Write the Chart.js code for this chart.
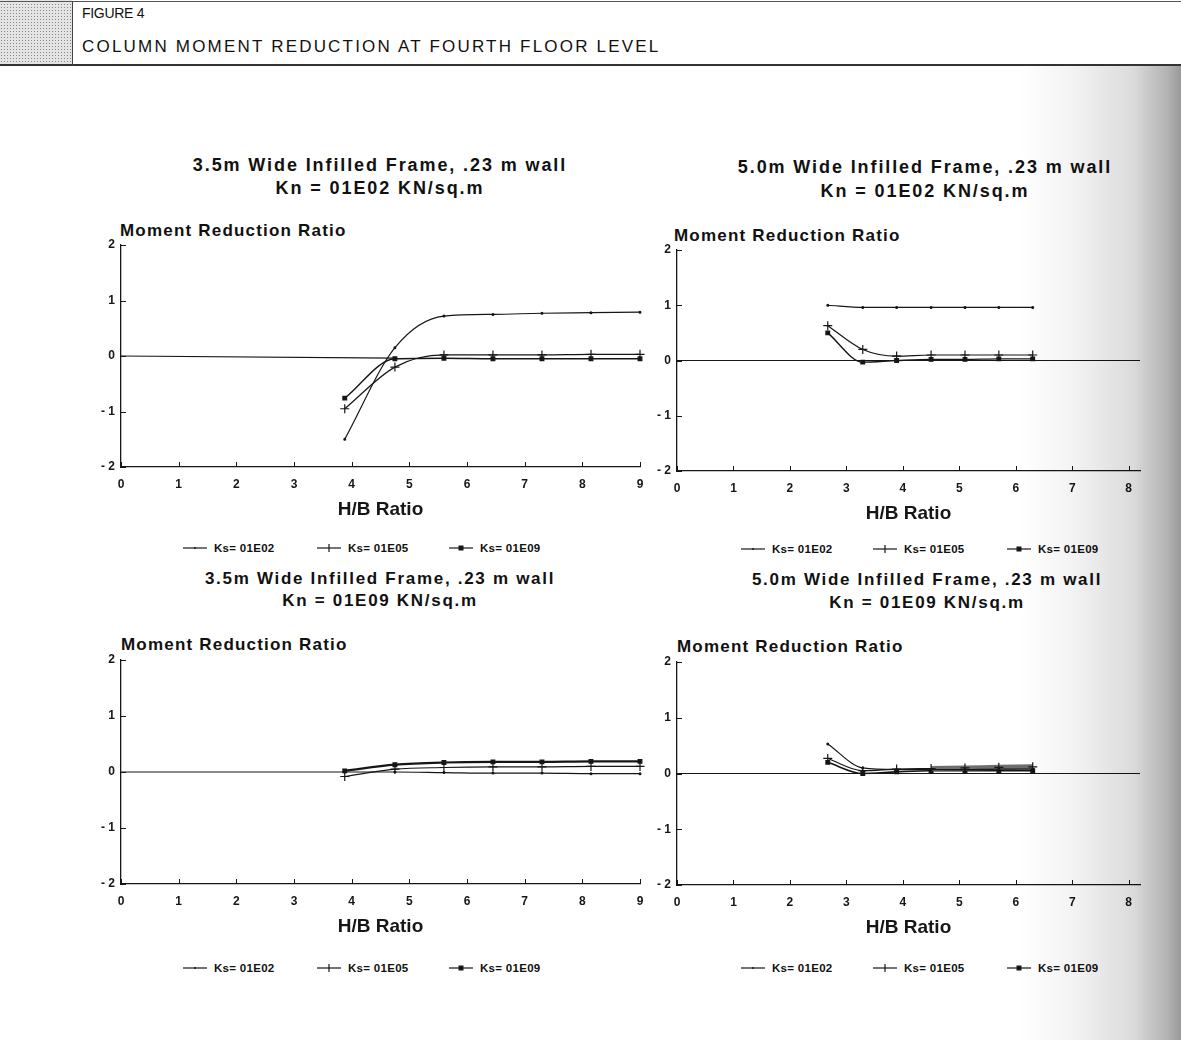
<!DOCTYPE html>
<html><head><meta charset="utf-8">
<script src="https://cdn.jsdelivr.net/npm/chart.js@4"></script>
<style>
html,body{margin:0;padding:0;background:#fff}
body{width:1181px;height:1040px;overflow:hidden;position:relative;font-family:"Liberation Sans",Arial,sans-serif;color:#111}
.abs{position:absolute}
.ptitle{position:absolute;text-align:center;font-weight:bold;white-space:nowrap}
.ytitle{position:absolute;font-weight:bold;font-size:17px;line-height:18px;white-space:nowrap;letter-spacing:1.2px}
.leg{position:absolute;height:14px;font-weight:bold;font-size:11.5px;line-height:14px;white-space:nowrap;letter-spacing:0.3px}
.leg svg{position:absolute;top:0}
.leg span{position:absolute;top:0}
canvas{position:absolute}
</style></head><body>
<div class="abs" style="left:0;top:0;width:72px;height:64px;background-color:#e4e4e4;background-image:radial-gradient(#888 0.7px,transparent 0.9px);background-size:3px 3px"></div>
<div class="abs" style="left:0;top:1px;width:1181px;height:1px;background:#555"></div>
<div class="abs" style="left:0;top:64px;width:1181px;height:2px;background:#333"></div>
<div class="abs" style="left:72px;top:1px;width:1px;height:64px;background:#444"></div>
<div class="abs" style="left:82px;top:5px;font-size:14px;line-height:16px;letter-spacing:-0.3px">FIGURE 4</div>
<div class="abs" style="left:82px;top:38px;font-size:17px;line-height:18px;letter-spacing:2.2px">COLUMN MOMENT REDUCTION AT FOURTH FLOOR LEVEL</div>

<div class="ptitle" style="left:130px;top:154px;width:500px;font-size:18px;line-height:23px;letter-spacing:1.9px">3.5m Wide Infilled Frame, .23 m wall<br>Kn = 01E02 KN/sq.m</div>
<div class="ptitle" style="left:675px;top:155px;width:500px;font-size:18px;line-height:24px;letter-spacing:1.9px">5.0m Wide Infilled Frame, .23 m wall<br>Kn = 01E02 KN/sq.m</div>
<div class="ptitle" style="left:130px;top:568px;width:500px;font-size:17px;line-height:22px;letter-spacing:1.7px">3.5m Wide Infilled Frame, .23 m wall<br>Kn = 01E09 KN/sq.m</div>
<div class="ptitle" style="left:677px;top:568px;width:500px;font-size:17px;line-height:23px;letter-spacing:1.7px">5.0m Wide Infilled Frame, .23 m wall<br>Kn = 01E09 KN/sq.m</div>

<div class="ytitle" style="left:120px;top:222px">Moment Reduction Ratio</div>
<div class="ytitle" style="left:674px;top:227px">Moment Reduction Ratio</div>
<div class="ytitle" style="left:121px;top:636px">Moment Reduction Ratio</div>
<div class="ytitle" style="left:677px;top:638px">Moment Reduction Ratio</div>

<div id="legends"></div>
<div class="abs" style="left:1020px;top:66px;width:161px;height:974px;pointer-events:none;z-index:5;background:linear-gradient(to right,rgba(0,0,0,0) 0%,rgba(0,0,0,0.05) 35%,rgba(0,0,0,0.14) 70%,rgba(0,0,0,0.3) 92%,rgba(0,0,0,0.4) 100%)"></div>

<script>
// ---------- data ----------
const xTicks35 = [0, 1, 2, 3, 4, 5, 6, 7, 8, 9];
const xTicks50 = [0, 1, 2, 3, 4, 5, 6, 7, 8];
const yTicks = [-2, -1, 0, 1, 2];
const seriesNames = ['Ks= 01E02', 'Ks= 01E05', 'Ks= 01E09'];

const hb35 = [3.88, 4.75, 5.6, 6.45, 7.3, 8.15, 9.0];
const hb50 = [2.67, 3.29, 3.89, 4.5, 5.1, 5.7, 6.3];

// 3.5m wide, Kn = 01E02
const a_E02 = [-1.5, 0.15, 0.72, 0.75, 0.77, 0.78, 0.79];
const a_E05 = [-0.95, -0.2, 0.02, 0.02, 0.02, 0.03, 0.03];
const a_E09 = [-0.76, -0.05, -0.04, -0.05, -0.05, -0.05, -0.05];
const a_baseX = [0, 4.75];
const a_baseY = [0, -0.04];

// 5.0m wide, Kn = 01E02
const b_E02 = [1.0, 0.96, 0.96, 0.96, 0.96, 0.96, 0.96];
const b_E05 = [0.63, 0.2, 0.08, 0.1, 0.1, 0.1, 0.1];
const b_E09 = [0.5, -0.03, 0.0, 0.02, 0.02, 0.03, 0.03];
const b_baseX = [0, 8.2];
const b_baseY = [0, 0];

// 3.5m wide, Kn = 01E09
const c_E02 = [0.0, 0.0, -0.01, -0.02, -0.02, -0.03, -0.03];
const c_E05 = [-0.08, 0.05, 0.08, 0.09, 0.09, 0.1, 0.1];
const c_E09 = [0.02, 0.13, 0.17, 0.18, 0.18, 0.19, 0.19];
const c_baseX = [0, 3.88];
const c_baseY = [0, 0];

// 5.0m wide, Kn = 01E09
const d_E02 = [0.53, 0.1, 0.07, 0.07, 0.07, 0.08, 0.08];
const d_E05 = [0.27, 0.05, 0.08, 0.09, 0.1, 0.11, 0.12];
const d_E09 = [0.2, 0.0, 0.03, 0.05, 0.05, 0.05, 0.05];
const d_baseX = [0, 8.2];
const d_baseY = [0, 0];
const d_bandFrom = 4.5;   // Ks=01E05 drawn as a heavy grey band from this H/B on

// ---------- layout ----------
const panels = [
  {L:121, R:640, T:245, B:467, xmax:9,   ticks:xTicks35, xs:hb35, base:[a_baseX,a_baseY], s:[a_E02,a_E05,a_E09], w9:1.4, band:null, leg:{y:541, x:[183,317,449]}},
  {L:677, R:1140, T:250, B:471, xmax:8.2, ticks:xTicks50, xs:hb50, base:[b_baseX,b_baseY], s:[b_E02,b_E05,b_E09], w9:1.4, band:null, leg:{y:542, x:[741,873,1007]}},
  {L:121, R:640, T:660, B:884, xmax:9,   ticks:xTicks35, xs:hb35, base:[c_baseX,c_baseY], s:[c_E02,c_E05,c_E09], w9:2.2, band:null, leg:{y:961, x:[183,317,449]}},
  {L:677, R:1140, T:662, B:885, xmax:8.2, ticks:xTicks50, xs:hb50, base:[d_baseX,d_baseY], s:[d_E02,d_E05,d_E09], w9:1.6, band:d_bandFrom, leg:{y:961, x:[741,873,1007]}}
];

const INK = '#161616';
Chart.defaults.font.family = '"Liberation Sans", Arial, sans-serif';
Chart.defaults.color = INK;

const innerTicks = {
  id: 'innerTicks',
  afterDraw(chart) {
    const {ctx, chartArea, scales} = chart;
    ctx.save();
    ctx.strokeStyle = INK;
    ctx.lineWidth = 1;
    scales.x.ticks.forEach(t => {
      const px = Math.round(scales.x.getPixelForValue(t.value)) + 0.5;
      ctx.beginPath(); ctx.moveTo(px, chartArea.bottom); ctx.lineTo(px, chartArea.bottom - 5); ctx.stroke();
    });
    scales.y.ticks.forEach(t => {
      const py = Math.round(scales.y.getPixelForValue(t.value)) + 0.5;
      ctx.beginPath(); ctx.moveTo(chartArea.left, py); ctx.lineTo(chartArea.left + 5, py); ctx.stroke();
    });
    ctx.restore();
  }
};

const styles = [
  {pointStyle:'circle', pointRadius:0.9, bw:1.2},
  {pointStyle:'cross', pointRadius:4.5, bw:1.2},
  {pointStyle:'rect', pointRadius:2.6, bw:1.4}
];

panels.forEach((p, i) => {
  const padL = 45, padT = 14, padR = 26, xH = 60;
  const cl = p.L - padL, ct = p.T - padT;
  const cw = p.R + padR - cl, ch = p.B + xH - ct;
  const cv = document.createElement('canvas');
  cv.width = cw; cv.height = ch;
  cv.style.left = cl + 'px'; cv.style.top = ct + 'px';
  cv.style.width = cw + 'px'; cv.style.height = ch + 'px';
  document.body.appendChild(cv);

  const datasets = [{
    label: 'zero',
    data: p.base[0].map((x, k) => ({x, y: p.base[1][k]})),
    borderColor: INK, borderWidth: 1.2, pointRadius: 0, tension: 0
  }];
  p.s.forEach((vals, k) => {
    const st = styles[k];
    const ds = {
      label: seriesNames[k],
      data: p.xs.map((x, j) => ({x, y: vals[j]})),
      borderColor: INK, backgroundColor: INK,
      borderWidth: k === 2 ? p.w9 : st.bw,
      pointStyle: st.pointStyle, pointRadius: st.pointRadius,
      pointBorderColor: INK, pointBackgroundColor: INK, pointBorderWidth: 1.2,
      cubicInterpolationMode: 'monotone', clip: 12, fill: false
    };
    if (k === 1 && p.band !== null) {
      const inBand = c => c.p0.parsed.x >= p.band - 1e-6;
      ds.segment = {
        borderColor: c => inBand(c) ? '#6e6e6e' : undefined,
        borderWidth: c => inBand(c) ? 5 : undefined
      };
    }
    datasets.push(ds);
  });

  new Chart(cv, {
    type: 'line',
    data: {datasets},
    plugins: [innerTicks],
    options: {
      responsive: false, animation: false,
      layout: {padding: {left: 0, top: padT, right: padR, bottom: 0}},
      plugins: {legend: {display: false}, tooltip: {enabled: false}},
      scales: {
        x: {
          type: 'linear', min: 0, max: p.xmax,
          afterBuildTicks: s => { s.ticks = p.ticks.map(v => ({value: v})); },
          afterFit: s => { s.height = xH; },
          grid: {display: false, drawTicks: false},
          border: {display: true, color: INK, width: 1.3},
          ticks: {padding: 10, font: {size: 12, weight: 'bold'}, color: INK, maxRotation: 0},
          title: {display: true, text: 'H/B Ratio', font: {size: 19, weight: 'bold'}, color: INK, padding: {top: 0, bottom: 6}}
        },
        y: {
          type: 'linear', min: -2, max: 2,
          afterBuildTicks: s => { s.ticks = yTicks.map(v => ({value: v})); },
          afterFit: s => { s.width = padL; },
          grid: {display: false, drawTicks: false},
          border: {display: true, color: INK, width: 1.3},
          ticks: {padding: 6, font: {size: 12, weight: 'bold'}, color: INK,
                  callback: v => v < 0 ? '- ' + Math.abs(v) : String(v)}
        }
      }
    }
  });

  // legend
  const lg = document.createElement('div');
  lg.className = 'leg';
  lg.style.left = '0px'; lg.style.top = p.leg.y + 'px'; lg.style.width = '1181px';
  seriesNames.forEach((name, k) => {
    const x0 = p.leg.x[k];
    let marker = '';
    if (k === 0) marker = '<circle cx="12" cy="7" r="1" fill="#161616"/>';
    if (k === 1) marker = '<line x1="12" y1="3" x2="12" y2="11" stroke="#161616" stroke-width="1.2"/>';
    if (k === 2) marker = '<rect x="9.5" y="4.5" width="5" height="5" fill="#161616"/>';
    lg.insertAdjacentHTML('beforeend',
      `<svg style="left:${x0}px" width="24" height="14"><line x1="0" y1="7" x2="24" y2="7" stroke="#161616" stroke-width="1.2"/>${marker}</svg>` +
      `<span style="left:${x0 + 31}px">${name}</span>`);
  });
  document.getElementById('legends').appendChild(lg);
});
</script>
</body></html>
